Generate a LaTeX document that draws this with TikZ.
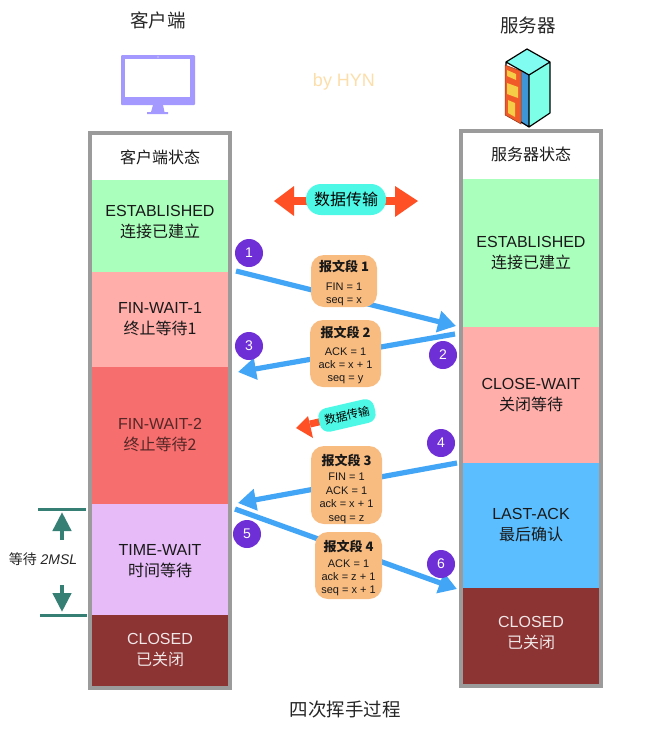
\documentclass[tikz,border=0pt]{standalone}
\usepackage{fontspec}
\setmainfont{Liberation Sans}
\newfontfamily\cjk{Noto Sans CJK SC}
\usetikzlibrary{arrows.meta,calc}
\definecolor{frameg}{HTML}{9B9B9B}
\definecolor{cest}{HTML}{ABFFBC}
\definecolor{cfa}{HTML}{FFAEAA}
\definecolor{cfb}{HTML}{F76E6E}
\definecolor{ctw}{HTML}{E6BBF8}
\definecolor{ccl}{HTML}{8C3333}
\definecolor{cla}{HTML}{5BBEFF}
\definecolor{cseg}{HTML}{F8BB80}
\definecolor{cpur}{HTML}{6F2FD6}
\definecolor{cblu}{HTML}{42A5F5}
\definecolor{cora}{HTML}{FF5025}
\definecolor{ccy}{HTML}{4DF9E6}
\definecolor{cteal}{HTML}{357F75}
\definecolor{cmon}{HTML}{A499FF}
\definecolor{chyn}{HTML}{FCDEAA}
\definecolor{svtop}{HTML}{80FCF0}
\definecolor{svside}{HTML}{7CFFE6}
\definecolor{svblue}{HTML}{3E96D7}
\definecolor{svora}{HTML}{F05A28}
\definecolor{svyel}{HTML}{F5CD46}
\newcommand{\zh}[1]{{\cjk #1}}
\tikzset{
  staterow/.style={inner sep=0pt,outer sep=0pt,align=center,minimum width=136pt,text=black!90,
    font=\fontsize{16}{21}\selectfont},
  segbox/.style={fill=cseg,rounded corners=13pt,inner sep=0pt,outer sep=0pt,align=center,
    font=\fontsize{11}{13.4}\selectfont,text=black!90},
  numdot/.style={circle,fill=cpur,text=white,inner sep=0pt,minimum size=28pt,font=\fontsize{14}{14}\selectfont},
  msgarrow/.style={draw=cblu,line width=5.2pt,-{Triangle[length=18pt,width=21pt]}},
  dataarrow/.style={draw=cora,line width=8pt},
  datapill/.style={fill=ccy,inner sep=0pt,align=center},
  title/.style={font=\fontsize{18.5}{18.5}\selectfont\cjk,text=black!85},
  waitbar/.style={draw=cteal,line width=3pt},
  waitarrow/.style={draw=cteal,line width=4.5pt,-{Triangle[length=19pt,width=18pt]}},
  frame/.style={draw=frameg,line width=4pt}
}
\newcommand{\segt}[2]{\rule{0pt}{#1}{\fontsize{13}{17}\selectfont\cjk\bfseries #2}}
\begin{document}
\begin{tikzpicture}[x=1pt,y=-1pt]
\useasboundingbox (0,0) rectangle (651,745);
% titles
\node[title] (t1) at (158,20) {客户端};
\node[title] (t2) at (528,25) {服务器};
\node[font=\fontsize{18}{18}\selectfont,text=chyn] (hyn) at (344,82) {by HYN};
\node[title] (t3) at (345,709) {四次挥手过程};
% monitor
\fill[cmon,rounded corners=1pt] (121,55) rectangle (195,105);
\fill[white] (125,59) rectangle (190,97);
\fill[white] (158,57) circle (0.7);
\fill[cmon] (153,105) -- (163,105) -- (164.5,112) -- (168,112) -- (168,114) -- (147,114) -- (147,112) -- (151,112) -- cycle;
% server
\fill[svtop] (506,62) -- (527,49) -- (550,62) -- (529,75) -- cycle;
\fill[svside] (529,75) -- (550,62) -- (550,113) -- (529,127) -- cycle;
\fill[svblue] (521,71) -- (529,75) -- (529,127) -- (521,122) -- cycle;
\fill[svora] (505,65) -- (521,71) -- (521,124) -- (505,115) -- cycle;
\fill[svyel] (507,70) -- (516,74) -- (516,80) -- (507,76) -- cycle;
\fill[svyel] (507,83) -- (518,87) -- (518,98) -- (507,94) -- cycle;
\fill[svyel] (508,100) -- (515,103) -- (515,117) -- (508,113) -- cycle;
\draw[svora!60!black,line width=0.5pt] (505,65) -- (521,71) -- (521,124) -- (505,115) -- cycle;
\draw[black,line width=1.2pt,line join=round] (506,62) -- (527,49) -- (550,62) -- (529,75) -- cycle (529,75) -- (529,127) -- (550,113) -- (550,62) (506,62) -- (506,65) (529,127) -- (521,122);
% states left
\node[staterow,minimum height=45pt,font=\fontsize{16}{21}\selectfont\cjk] (lh) at (160,157) {客户端状态};
\node[staterow,fill=cest,minimum height=92pt] (l1) at (160,226) {};
\node[staterow] (l1t) at (160,222) {ESTABLISHED\\\zh{连接已建立}};
\node[staterow,fill=cfa,minimum height=95pt] (l2) at (160,319.5) {FIN-WAIT-1\\\zh{终止等待1}};
\node[staterow,fill=cfb,minimum height=137pt,text=black!65!cfb] (l3) at (160,435) {FIN-WAIT-2\\\zh{终止等待2}};
\node[staterow,fill=ctw,minimum height=111pt] (l4) at (160,559.5) {};
\node[staterow] (l4t) at (160,561) {TIME-WAIT\\\zh{时间等待}};
\node[staterow,fill=ccl,minimum height=71pt,text=white!88!ccl] (l5) at (160,650.5) {CLOSED\\\zh{已关闭}};
\draw[frame] (90,133) rectangle (230,688);
% states right
\node[staterow,minimum height=46pt,font=\fontsize{16}{21}\selectfont\cjk] (rh) at (531,154) {服务器状态};
\node[staterow,fill=cest,minimum height=148pt] (r1) at (531,253) {ESTABLISHED\\\zh{连接已建立}};
\node[staterow,fill=cfa,minimum height=136pt] (r2) at (531,395) {CLOSE-WAIT\\\zh{关闭等待}};
\node[staterow,fill=cla,minimum height=125pt] (r3) at (531,525.5) {LAST-ACK\\\zh{最后确认}};
\node[staterow,fill=ccl,minimum height=96pt,text=white!88!ccl] (r4) at (531,636) {};
\node[staterow,text=white!88!ccl] (r4t) at (531,633) {CLOSED\\\zh{已关闭}};
\draw[frame] (461,131) rectangle (601,686);
% data transfer
\coordinate (da) at (294,201);
\coordinate (db) at (398,201);
\draw[dataarrow] (da) -- (db);
\fill[cora] (274,201) -- (294,186) -- (294,216) -- cycle;
\fill[cora] (418,201) -- (395,186) -- (395,217) -- cycle;
\node[datapill,minimum width=80pt,minimum height=31pt,rounded corners=15pt,font=\fontsize{16}{16}\selectfont\cjk] (data1) at (346,199.5) {数据传输};
\coordinate (dc) at (310,424);
\coordinate (dd) at (332,419);
\draw[draw=cora,line width=7pt] (dc) -- (dd);
\fill[cora] (296,428) -- (308,416) -- (313,438) -- cycle;
\node[datapill,minimum width=57pt,minimum height=24pt,rotate=13,rounded corners=9pt,font=\fontsize{11.5}{11.5}\selectfont\cjk] (data2) at (347,415.5) {数据传输};
% message arrows
\coordinate (a1) at (236,271); \coordinate (a2) at (456,326);
\coordinate (b1) at (455,334); \coordinate (b2) at (238,372);
\coordinate (c1) at (457,463); \coordinate (c2) at (238,503);
\coordinate (d1) at (235,509); \coordinate (d2) at (457,589);
\draw[msgarrow] (a1) -- (a2);
\draw[msgarrow] (b1) -- (b2);
\draw[msgarrow] (c1) -- (c2);
\draw[msgarrow] (d1) -- (d2);
% segments
\node[segbox,minimum width=66pt,minimum height=52pt] (s1) at (344,281) {\segt{16pt}{报文段 1}\\[5pt]FIN = 1\\seq = x};
\node[segbox,minimum width=71pt,minimum height=67pt] (s2) at (345.5,353.5) {\segt{15pt}{报文段 2}\\[4pt]ACK = 1\\ack = x + 1\\seq = y};
\node[segbox,minimum width=71pt,minimum height=78pt] (s3) at (346.5,485) {\segt{19pt}{报文段 3}\\[2pt]FIN = 1\\ACK = 1\\ack = x + 1\\seq = z};
\node[segbox,minimum width=67pt,minimum height=67pt] (s4) at (348.5,565.5) {\segt{17pt}{报文段 4}\\[2pt]ACK = 1\\ack = z + 1\\seq = x + 1};
% numbers
\node[numdot] (n1) at (249,253) {1};
\node[numdot] (n2) at (443,355) {2};
\node[numdot] (n3) at (249,346) {3};
\node[numdot] (n4) at (441,443) {4};
\node[numdot] (n5) at (247,534) {5};
\node[numdot] (n6) at (441,564) {6};
% wait
\coordinate (wa) at (38,509); \coordinate (wb) at (86,509);
\coordinate (wc) at (40,615); \coordinate (wd) at (87,615);
\coordinate (we) at (62,540); \coordinate (wf) at (62,512);
\coordinate (wg) at (62,585); \coordinate (wh) at (62,612);
\draw[waitbar] (wa) -- (wb);
\draw[waitbar] (wc) -- (wd);
\draw[waitarrow] (we) -- (wf);
\draw[waitarrow] (wg) -- (wh);
\node[font=\fontsize{14}{14}\selectfont,text=black!85] (wt) at (43,559.5) {\zh{等待} \textit{2MSL}};
\end{tikzpicture}
\end{document}
